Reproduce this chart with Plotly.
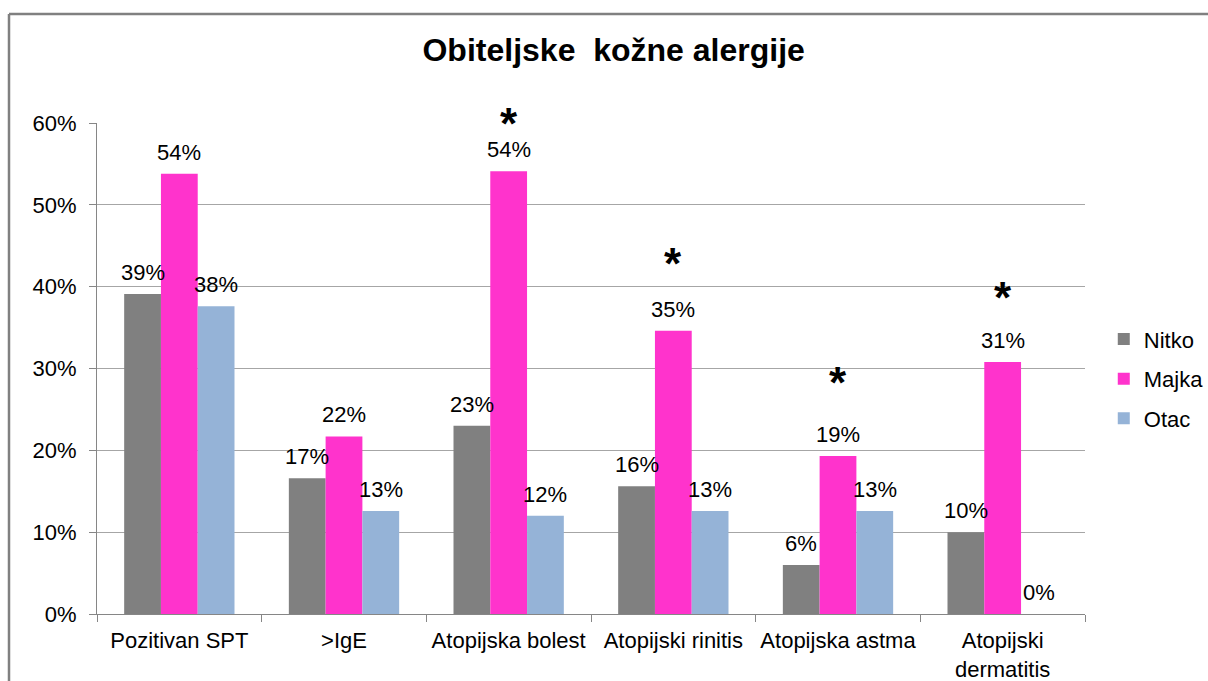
import plotly.graph_objects as go

categories = ["Pozitivan SPT", ">IgE", "Atopijska bolest", "Atopijski rinitis",
              "Atopijska astma", "Atopijski<br>dermatitis"]
series_names = ["Nitko", "Majka", "Otac"]
nitko = [0.391, 0.166, 0.230, 0.156, 0.060, 0.100]
majka = [0.538, 0.217, 0.541, 0.346, 0.193, 0.308]
otac = [0.376, 0.126, 0.120, 0.126, 0.126, 0.0]
colors = ["#808080", "#FF33CC", "#95B3D7"]
star_cats = ["Atopijska bolest", "Atopijski rinitis", "Atopijska astma", "Atopijski<br>dermatitis"]
star_y = [0.607, 0.436, 0.290, 0.394]
title_text = "Obiteljske\u00a0\u00a0kožne alergije"
y_ticks = [0, 0.1, 0.2, 0.3, 0.4, 0.5, 0.6]
y_max = 0.6

W, H = 1208, 681
ml, mr, mt, mb = 97, 123, 123, 67
plot_w = W - ml - mr
plot_h = H - mt - mb
bargap = 0.33
bar_px = plot_w / len(categories) * (1 - bargap) / 3
px_per_unit = plot_h / y_max

FONT = "Liberation Sans, Arial, sans-serif"
FS = 22
fig = go.Figure()
series = [nitko, majka, otac]
for i, (name, vals) in enumerate(zip(series_names, series)):
    fig.add_trace(go.Bar(
        x=categories, y=vals, name=name, marker_color=colors[i],
        marker_line_width=0, legendgroup=name,
    ))

annotations = []
for i, vals in enumerate(series):
    for c, v in zip(categories, vals):
        annotations.append(dict(
            x=c, y=v, text=f"{int(round(v * 100))}%", showarrow=False,
            xref="x", yref="y", xshift=(i - 1) * bar_px, yshift=7,
            yanchor="bottom", font=dict(size=FS, color="#000000", family=FONT),
        ))
for c, sy in zip(star_cats, star_y):
    anchor = min(sy, y_max)
    annotations.append(dict(
        x=c, y=anchor, text="<b>*</b>", showarrow=False, xref="x", yref="y",
        yanchor="middle", yshift=(sy - anchor) * px_per_unit - 6,
        font=dict(size=44, color="#000000", family=FONT),
    ))

top_paper = (H - mb - 14) / plot_h
left_paper = (9 - ml) / plot_w
fig.update_layout(
    width=W, height=H,
    margin=dict(l=ml, r=mr, t=mt, b=mb, autoexpand=False),
    paper_bgcolor="white", plot_bgcolor="white",
    barmode="group", bargap=bargap, bargroupgap=0,
    title=dict(text="<b>" + title_text + "</b>", x=0.508, xanchor="center",
               y=0.927, yanchor="middle",
               font=dict(size=32, color="#000000", family=FONT)),
    font=dict(family=FONT, size=FS, color="#000000"),
    legend=dict(x=1.019, xanchor="left", y=0.479, yanchor="middle",
                traceorder="grouped", tracegroupgap=8,
                font=dict(size=FS, family=FONT, color="#000000"),
                bgcolor="rgba(0,0,0,0)"),
    annotations=annotations,
    shapes=[
        dict(type="line", xref="paper", yref="paper",
             x0=left_paper, x1=(W + 5 - ml) / plot_w,
             y0=top_paper, y1=top_paper,
             line=dict(color="#808080", width=2.5)),
        dict(type="line", xref="paper", yref="paper",
             x0=left_paper, x1=left_paper,
             y0=top_paper, y1=-(mb + 10) / plot_h,
             line=dict(color="#808080", width=2.5)),
    ],
)
fig.update_yaxes(
    range=[0, y_max], tickvals=y_ticks, tickformat=".0%",
    showgrid=True, gridcolor="#A6A6A6", gridwidth=1,
    showline=True, linecolor="#868686", linewidth=1,
    ticks="outside", ticklen=7, tickcolor="#868686",
    ticklabelstandoff=8, zeroline=False,
    tickfont=dict(size=FS, family=FONT, color="#000000"),
)
fig.update_xaxes(
    showline=True, linecolor="#868686", linewidth=1,
    ticks="outside", ticklen=7, tickcolor="#868686", tickson="boundaries",
    ticklabelstandoff=7, tickangle=0,
    tickfont=dict(size=FS, family=FONT, color="#000000"),
)
fig.write_html(
    "out.html",
    config={"displayModeBar": False},
    post_script="document.body.style.margin='0';document.body.style.overflow='hidden';",
)
